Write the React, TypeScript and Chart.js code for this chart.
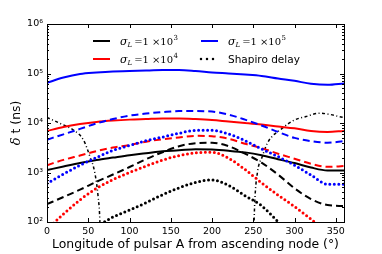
import { useEffect, useRef } from 'react';
import { Chart, registerables } from 'chart.js';
Chart.register(...registerables);

const W = 382;
const H = 254;

const angles = [0, 20, 40, 60, 80, 100, 120, 140, 160, 180, 200, 220, 240, 260, 280, 300, 320, 340, 360];

// sigma_L = 1e5 (blue)
const blueSolid = [65000, 83000, 98000, 105000, 110000, 112000, 115000, 117000, 117000, 112000, 105000, 100000, 95000, 89000, 79000, 71000, 62000, 59000, 63000];
const blueDashed = [4600, 5900, 7600, 9800, 12000, 14100, 15500, 16600, 17400, 17400, 17000, 14800, 11700, 8900, 6600, 5000, 4300, 4000, 4300];
const blueDotted = [600, 930, 1400, 2000, 2800, 3500, 4400, 5200, 6200, 7100, 7100, 6000, 4400, 3000, 2100, 1400, 890, 580, 580];

// sigma_L = 1e4 (red)
const redSolid = [6900, 8300, 9500, 10500, 11200, 11700, 12000, 12300, 12300, 12000, 11500, 10700, 10000, 9300, 8500, 7800, 6900, 6600, 6900];
const redDashed = [1400, 1800, 2200, 2700, 3200, 3600, 4200, 4700, 5100, 5500, 5400, 4800, 3800, 3100, 2400, 1900, 1500, 1300, 1350];
const redDotted = [71, 145, 280, 480, 720, 1000, 1350, 1780, 2200, 2500, 2570, 1950, 1150, 620, 350, 205, 114, 60, 40];

// sigma_L = 1e3 (black)
const blackSolid = [1120, 1320, 1550, 1780, 2000, 2240, 2450, 2700, 2800, 2950, 2900, 2750, 2550, 2240, 1860, 1550, 1260, 1100, 1100];
const blackDashed = [230, 320, 450, 650, 910, 1290, 1860, 2570, 3400, 3900, 4000, 3400, 2400, 1580, 910, 480, 290, 220, 210];
const blackDotted = [20, 28, 45, 80, 126, 174, 245, 355, 490, 630, 710, 550, 340, 214, 102, 50, 30, 22, 20];

// Shapiro delay
const shapiroAngles = [0, 16, 32, 44, 52, 58, 62, 64, 65, 100, 250, 251.6, 255, 261, 267, 285, 300, 314, 330, 342, 354, 360];
const shapiroValues = [12900, 9800, 7200, 4600, 2100, 980, 320, 110, 20, null, 20, 204, 980, 2100, 3900, 7800, 11500, 13500, 15800, 15000, 13500, 12900];

const xTicks = [0, 50, 100, 150, 200, 250, 300, 350];
const yTicks = [100, 1000, 10000, 100000, 1000000];
const yTickLabels = ['10²', '10³', '10⁴', '10⁵', '10⁶'];

const xTitle = 'Longitude of pulsar A from ascending node (°)';
const yTitleGreek = 'δ';
const yTitleRest = ' t (ns)';
const legendSigmaExp = ['3', '4', '5'];
const shapiroLabel = 'Shapiro delay';

const SOLID = { borderWidth: 2 };
const DASHED = { borderWidth: 2, borderDash: [7, 4] };
const DOTTED = { borderWidth: 3, borderDash: [0, 4.5], borderCapStyle: 'round' };
const DASHDOT = { borderWidth: 1.5, borderDash: [3, 2.5, 1, 2.5] };

const BLUE = '#0000ff';
const RED = '#ff0000';
const BLACK = '#000000';

export default function App() {
  const ref = useRef<HTMLCanvasElement>(null);

  useEffect(() => {
    document.body.style.margin = '0';
    const canvas = ref.current;
    if (!canvas) return;

    const mk = (xs: number[], vals: (number | null)[], color: string, style: any) => ({
      data: xs.map((a, i) => ({ x: a, y: vals[i] })),
      borderColor: color,
      backgroundColor: color,
      pointRadius: 0,
      fill: false,
      cubicInterpolationMode: 'monotone',
      ...style,
    });

    const datasets = [
      mk(angles, blackDotted, BLACK, DOTTED),
      mk(angles, redDotted, RED, DOTTED),
      mk(angles, blueDotted, BLUE, DOTTED),
      mk(angles, blackDashed, BLACK, DASHED),
      mk(angles, redDashed, RED, DASHED),
      mk(angles, blueDashed, BLUE, DASHED),
      mk(angles, blackSolid, BLACK, SOLID),
      mk(angles, redSolid, RED, SOLID),
      mk(angles, blueSolid, BLUE, SOLID),
      mk(shapiroAngles, shapiroValues, BLACK, DASHDOT),
    ];

    const deco = {
      id: 'deco',
      afterDraw(chart: any) {
        const ctx = chart.ctx;
        const a = chart.chartArea;
        const xs = chart.scales.x;
        const ys = chart.scales.y;
        ctx.save();
        ctx.strokeStyle = '#000';
        ctx.lineWidth = 1;
        ctx.setLineDash([]);
        // frame
        ctx.strokeRect(Math.round(a.left) + 0.5, Math.round(a.top) + 0.5, Math.round(a.right - a.left), Math.round(a.bottom - a.top));
        ctx.beginPath();
        for (const v of xTicks) {
          const px = Math.round(xs.getPixelForValue(v)) + 0.5;
          ctx.moveTo(px, a.bottom);
          ctx.lineTo(px, a.bottom - 4);
          ctx.moveTo(px, a.top);
          ctx.lineTo(px, a.top + 4);
        }
        for (const v of yTicks) {
          const py = Math.round(ys.getPixelForValue(v)) + 0.5;
          ctx.moveTo(a.left, py);
          ctx.lineTo(a.left + 4, py);
          ctx.moveTo(a.right, py);
          ctx.lineTo(a.right - 4, py);
        }
        for (let k = 0; k < yTicks.length - 1; k++) {
          for (let m = 2; m <= 9; m++) {
            const py = Math.round(ys.getPixelForValue(yTicks[k] * m)) + 0.5;
            ctx.moveTo(a.left, py);
            ctx.lineTo(a.left + 2, py);
            ctx.moveTo(a.right, py);
            ctx.lineTo(a.right - 2, py);
          }
        }
        ctx.stroke();

        // titles
        ctx.fillStyle = '#000';
        ctx.font = '12.4px "DejaVu Sans"';
        ctx.textAlign = 'center';
        ctx.textBaseline = 'alphabetic';
        ctx.fillText(xTitle, (a.left + a.right) / 2, 248);
        ctx.save();
        ctx.translate(20, (a.top + a.bottom) / 2);
        ctx.rotate(-Math.PI / 2);
        ctx.textAlign = 'left';
        ctx.font = 'italic 13px "DejaVu Serif"';
        const gw = ctx.measureText(yTitleGreek).width;
        ctx.font = '12.4px "DejaVu Sans"';
        const rw = ctx.measureText(yTitleRest).width;
        const start = -(gw + rw) / 2;
        ctx.font = 'italic 13px "DejaVu Serif"';
        ctx.fillText(yTitleGreek, start, 0);
        ctx.font = '12.4px "DejaVu Sans"';
        ctx.fillText(yTitleRest, start + gw, 0);
        ctx.restore();

        // legend
        const entries = [
          { x: 93, y: 41, color: BLACK, exp: legendSigmaExp[0] },
          { x: 93, y: 59, color: RED, exp: legendSigmaExp[1] },
          { x: 201, y: 41, color: BLUE, exp: legendSigmaExp[2] },
          { x: 201, y: 59, color: BLACK, exp: null },
        ];
        for (const e of entries) {
          ctx.save();
          ctx.strokeStyle = e.color;
          ctx.lineWidth = e.exp ? 2 : 2.5;
          if (!e.exp) {
            ctx.setLineDash([0, 6]);
            ctx.lineCap = 'round';
          } else {
            ctx.setLineDash([]);
            ctx.lineCap = 'butt';
          }
          ctx.beginPath();
          ctx.moveTo(e.x, e.y);
          ctx.lineTo(e.x + 17, e.y);
          ctx.stroke();
          ctx.restore();
          ctx.fillStyle = '#000';
          ctx.textAlign = 'left';
          ctx.textBaseline = 'alphabetic';
          let tx = e.x + 27;
          const base = e.y + 4;
          if (e.exp) {
            ctx.font = 'italic 11px "DejaVu Serif"';
            ctx.fillText('σ', tx, base);
            tx += ctx.measureText('σ').width;
            ctx.font = 'italic 7px "DejaVu Serif"';
            ctx.fillText('L', tx, base + 2);
            tx += ctx.measureText('L').width + 2;
            ctx.font = '10px "DejaVu Serif"';
            ctx.fillText('=1', tx, base);
            tx += ctx.measureText('=1').width + 3;
            ctx.fillText('×10', tx, base);
            tx += ctx.measureText('×10').width + 0.5;
            ctx.font = '7px "DejaVu Serif"';
            ctx.fillText(e.exp, tx, base - 5);
          } else {
            ctx.font = '10.5px "DejaVu Sans"';
            ctx.fillText(shapiroLabel, tx, base);
          }
        }
        ctx.restore();
      },
    };

    const chart = new Chart(canvas, {
      type: 'line',
      data: { datasets: datasets as any },
      plugins: [deco],
      options: {
        animation: false,
        responsive: false,
        maintainAspectRatio: false,
        events: [],
        layout: { padding: { left: 0, top: 24, right: 38, bottom: 0 } },
        plugins: { legend: { display: false }, tooltip: { enabled: false }, title: { display: false } },
        scales: {
          x: {
            type: 'linear',
            min: 0,
            max: 360,
            grid: { display: false, drawTicks: false },
            border: { display: false },
            afterBuildTicks: (s: any) => { s.ticks = xTicks.map((v) => ({ value: v })); },
            afterFit: (s: any) => { s.height = 32; },
            ticks: {
              padding: 4,
              color: '#000',
              font: { family: 'DejaVu Sans', size: 9.5 },
              maxRotation: 0,
              autoSkip: false,
              callback: (v: any) => String(v),
            },
          },
          y: {
            type: 'logarithmic',
            min: 100,
            max: 1000000,
            grid: { display: false, drawTicks: false },
            border: { display: false },
            afterBuildTicks: (s: any) => { s.ticks = yTicks.map((v) => ({ value: v })); },
            afterFit: (s: any) => { s.width = 47; },
            ticks: {
              padding: 4,
              color: '#000',
              font: { family: 'DejaVu Sans', size: 9.5 },
              autoSkip: false,
              callback: (v: any) => {
                const i = yTicks.indexOf(Number(v));
                return i >= 0 ? yTickLabels[i] : '';
              },
            },
          },
        },
      } as any,
    });
    return () => chart.destroy();
  }, []);

  return (
    <div style={{ width: W, height: H }}>
      <canvas ref={ref} width={W} height={H} style={{ width: W, height: H, display: 'block' }} />
    </div>
  );
}
